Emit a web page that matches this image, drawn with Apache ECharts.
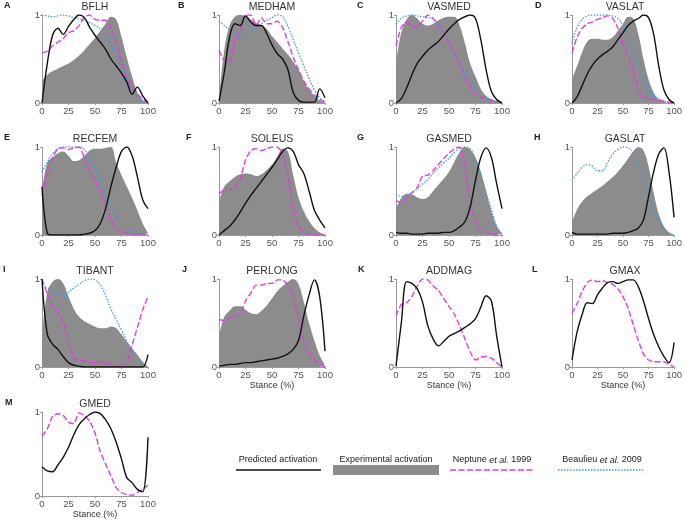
<!DOCTYPE html>
<html><head><meta charset="utf-8">
<script src="https://cdn.jsdelivr.net/npm/echarts@6/dist/echarts.min.js"></script>
<style>html,body{margin:0;padding:0;background:#fff}#c{width:685px;height:520px}</style>
</head><body><div id="c"></div><script>
// stance phase (%) sample points
const stance = [0,5,10,15,20,25,30,35,40,45,50,55,60,65,70,75,80,85,90,95,100];
const xTickValues = [0,25,50,75,100];
const yTickValues = [0,1];

const BFLH_exp  = [0.25,0.32,0.36,0.39,0.42,0.45,0.49,0.54,0.6,0.67,0.74,0.82,0.9,0.98,0.95,0.75,0.52,0.3,0.12,0.03,0];
const BFLH_pred = [0,0.45,0.77,0.85,0.78,0.87,0.95,1.0,0.97,0.86,0.77,0.69,0.61,0.5,0.42,0.34,0.24,0.1,0.18,0.08,0];
const BFLH_nep  = [0.57,0.59,0.65,0.69,0.73,0.8,0.82,0.88,0.98,1.0,0.95,0.94,0.94,0.85,0.68,0.47,0.3,0.18,0.1,0.05,0.01];
const BFLH_beau = [1.0,0.99,0.98,0.99,1.0,0.99,0.97,0.96,0.94,0.91,0.88,0.84,0.77,0.66,0.55,0.42,0.28,0.16,0.08,0.03,0];

const MEDHAM_exp  = [0.05,0.6,0.88,0.98,1.0,0.99,0.95,0.91,0.88,0.84,0.76,0.69,0.62,0.55,0.47,0.38,0.25,0.15,0.08,0.03,0];
const MEDHAM_pred = [0.02,0.35,0.75,0.9,0.88,0.99,0.92,0.88,0.88,0.79,0.66,0.56,0.5,0.38,0.12,0.03,0.01,0.01,0.01,0.16,0.06];
const MEDHAM_nep  = [0.6,0.48,0.47,0.72,0.82,1.0,1.0,0.88,0.97,0.9,0.9,0.93,0.86,0.7,0.52,0.38,0.25,0.16,0.09,0.04,0.01];
const MEDHAM_beau = [0.93,0.88,0.83,0.79,0.76,0.78,0.82,0.86,0.9,0.94,0.97,1.0,0.98,0.87,0.72,0.57,0.42,0.28,0.15,0.06,0.01];

const VASMED_exp  = [0.45,0.8,0.95,1.0,0.96,0.9,0.88,0.9,0.94,0.97,0.98,0.98,0.88,0.68,0.45,0.3,0.16,0.08,0.04,0.02,0];
const VASMED_pred = [0,0.05,0.17,0.32,0.45,0.53,0.6,0.65,0.7,0.77,0.84,0.9,0.95,0.98,1.0,0.96,0.72,0.38,0.13,0.04,0];
const VASMED_nep  = [0.65,0.86,0.92,0.88,0.86,0.93,1.0,0.96,0.88,0.8,0.68,0.58,0.45,0.3,0.18,0.1,0.07,0.05,0.03,0.02,0.01];
const VASMED_beau = [0.9,0.96,0.99,1.0,0.99,0.98,0.97,0.96,0.89,0.79,0.68,0.56,0.45,0.35,0.26,0.18,0.12,0.07,0.04,0.02,0];

const VASLAT_exp  = [0.27,0.42,0.58,0.7,0.73,0.73,0.72,0.72,0.75,0.82,0.9,0.98,0.96,0.78,0.5,0.27,0.12,0.04,0.01,0,0];
const VASLAT_pred = [0,0.07,0.2,0.33,0.43,0.5,0.55,0.59,0.64,0.72,0.8,0.88,0.93,0.96,1.0,0.97,0.78,0.42,0.15,0.04,0];
const VASLAT_nep  = [0.57,0.75,0.85,0.9,0.92,0.95,0.97,0.99,0.96,0.85,0.68,0.55,0.38,0.16,0.07,0.05,0.04,0.03,0.02,0.01,0];
const VASLAT_beau = [0.68,0.86,0.95,0.99,1.0,1.0,1.0,1.0,0.99,0.96,0.88,0.75,0.58,0.42,0.26,0.15,0.08,0.05,0.02,0.01,0];

const RECFEM_exp  = [0.5,0.82,0.88,0.93,0.95,0.9,0.84,0.85,0.9,0.96,0.98,0.98,0.99,1.0,0.82,0.68,0.55,0.42,0.28,0.13,0.02];
const RECFEM_pred = [0.55,0.02,0,0,0,0,0,0,0.01,0.02,0.05,0.13,0.3,0.55,0.77,0.95,1.0,0.9,0.66,0.4,0.3];
const RECFEM_nep  = [0.45,0.7,0.88,0.98,0.99,0.97,0.99,1.0,0.88,0.72,0.62,0.52,0.35,0.18,0.07,0.03,0.02,0.01,0.01,0.01,0.01];
const RECFEM_beau = [0.72,0.83,0.92,0.98,1.0,1.0,1.0,1.0,0.97,0.88,0.76,0.61,0.45,0.31,0.21,0.13,0.07,0.03,0.01,0,0];

const SOLEUS_exp  = [0.38,0.55,0.61,0.66,0.69,0.7,0.69,0.67,0.69,0.74,0.8,0.89,0.98,0.95,0.68,0.43,0.27,0.16,0.08,0.03,0];
const SOLEUS_pred = [0,0.05,0.1,0.17,0.26,0.36,0.45,0.53,0.61,0.69,0.77,0.86,0.95,0.99,0.95,0.8,0.7,0.5,0.28,0.17,0.08];
const SOLEUS_nep  = [0.47,0.51,0.52,0.53,0.64,0.85,0.96,0.98,0.96,0.98,1.0,1.0,0.92,0.68,0.3,0.1,0.03,0.01,0,0,0];

const GASMED_exp  = [0.3,0.42,0.47,0.46,0.43,0.41,0.43,0.5,0.57,0.64,0.72,0.83,0.94,1.0,0.97,0.88,0.72,0.5,0.27,0.1,0.02];
const GASMED_pred = [0.03,0.02,0.02,0.01,0.01,0.01,0.02,0.02,0.02,0.03,0.03,0.05,0.09,0.15,0.32,0.62,0.88,0.99,0.88,0.58,0.3];
const GASMED_nep  = [0.39,0.37,0.42,0.48,0.54,0.67,0.68,0.73,0.8,0.87,0.93,0.98,1.0,0.78,0.38,0.16,0.07,0.03,0.01,0,0];
const GASMED_beau = [0.46,0.44,0.45,0.48,0.52,0.58,0.63,0.7,0.76,0.82,0.87,0.94,0.98,1.0,0.98,0.85,0.68,0.48,0.29,0.1,0.01];

const GASLAT_exp  = [0.15,0.29,0.38,0.44,0.48,0.52,0.56,0.61,0.66,0.72,0.79,0.87,0.95,1.0,0.96,0.78,0.48,0.24,0.1,0.03,0];
const GASLAT_pred = [0.03,0.01,0.01,0.01,0.01,0.01,0.01,0.01,0.02,0.02,0.02,0.03,0.05,0.08,0.17,0.44,0.72,0.92,0.99,0.72,0.2];
const GASLAT_beau = [0.62,0.7,0.77,0.8,0.78,0.73,0.73,0.83,0.92,0.97,1.0,0.99,0.94,0.83,0.66,0.46,0.3,0.17,0.07,0.02,0];

const TIBANT_exp  = [0.35,0.85,0.97,1.0,0.95,0.8,0.66,0.57,0.52,0.49,0.46,0.44,0.44,0.46,0.44,0.37,0.29,0.21,0.14,0.06,0];
const TIBANT_pred = [1.0,0.37,0.26,0.2,0.12,0.05,0.02,0.01,0,0,0,0,0,0,0,0,0,0,0,0,0.14];
const TIBANT_nep  = [1.0,0.83,0.7,0.62,0.52,0.3,0.1,0.08,0.07,0.05,0.05,0.06,0.05,0.03,0.01,0,0.05,0.25,0.45,0.65,0.8];
const TIBANT_beau = [0.92,0.9,0.87,0.84,0.8,0.85,0.9,0.94,0.98,1.0,0.99,0.93,0.82,0.66,0.54,0.42,0.3,0.19,0.1,0.04,0];

const PERLONG_exp  = [0.35,0.57,0.64,0.69,0.69,0.65,0.61,0.6,0.64,0.7,0.78,0.86,0.92,0.97,1.0,0.94,0.74,0.5,0.3,0.13,0.02];
const PERLONG_pred = [0.01,0.02,0.03,0.03,0.04,0.05,0.05,0.06,0.07,0.08,0.09,0.1,0.12,0.15,0.2,0.3,0.58,0.82,0.99,0.8,0.18];
const PERLONG_nep  = [0.54,0.53,0.56,0.58,0.6,0.75,0.84,0.93,0.93,0.95,0.95,0.99,0.99,0.93,0.8,0.57,0.3,0.16,0.08,0.03,0];

const ADDMAG_pred = [0.01,0.5,0.97,0.95,0.89,0.74,0.47,0.32,0.24,0.29,0.35,0.38,0.41,0.45,0.49,0.55,0.68,0.81,0.75,0.35,0];
const ADDMAG_nep  = [0.58,0.71,0.73,0.8,0.92,1.0,0.99,0.92,0.87,0.78,0.69,0.6,0.47,0.32,0.17,0.08,0.11,0.12,0.1,0.05,0];

const GMAX_pred = [0.08,0.4,0.6,0.73,0.72,0.82,0.9,0.96,0.97,0.95,0.97,0.99,0.99,0.91,0.75,0.55,0.37,0.23,0.12,0.05,0.28];
const GMAX_nep  = [0.61,0.72,0.86,0.96,0.99,0.97,0.98,0.96,0.94,0.89,0.8,0.67,0.48,0.3,0.15,0.08,0.06,0.06,0.06,0.03,0];

const GMED_pred = [0.35,0.3,0.29,0.37,0.46,0.58,0.73,0.85,0.92,0.97,1.0,0.98,0.91,0.8,0.64,0.44,0.22,0.16,0.08,0.05,0.7];
const GMED_nep  = [0.71,0.8,0.95,0.98,0.96,0.88,0.86,0.99,0.96,0.89,0.75,0.53,0.38,0.24,0.1,0.04,0.02,0.01,0.04,0.08,0.13];

const panels = [
  {name:'BFLH', letter:'A', exp:BFLH_exp, pred:BFLH_pred, nep:BFLH_nep, beau:BFLH_beau},
  {name:'MEDHAM', letter:'B', exp:MEDHAM_exp, pred:MEDHAM_pred, nep:MEDHAM_nep, beau:MEDHAM_beau},
  {name:'VASMED', letter:'C', exp:VASMED_exp, pred:VASMED_pred, nep:VASMED_nep, beau:VASMED_beau},
  {name:'VASLAT', letter:'D', exp:VASLAT_exp, pred:VASLAT_pred, nep:VASLAT_nep, beau:VASLAT_beau},
  {name:'RECFEM', letter:'E', exp:RECFEM_exp, pred:RECFEM_pred, nep:RECFEM_nep, beau:RECFEM_beau},
  {name:'SOLEUS', letter:'F', exp:SOLEUS_exp, pred:SOLEUS_pred, nep:SOLEUS_nep},
  {name:'GASMED', letter:'G', exp:GASMED_exp, pred:GASMED_pred, nep:GASMED_nep, beau:GASMED_beau},
  {name:'GASLAT', letter:'H', exp:GASLAT_exp, pred:GASLAT_pred, beau:GASLAT_beau},
  {name:'TIBANT', letter:'I', exp:TIBANT_exp, pred:TIBANT_pred, nep:TIBANT_nep, beau:TIBANT_beau},
  {name:'PERLONG', letter:'J', exp:PERLONG_exp, pred:PERLONG_pred, nep:PERLONG_nep, stanceLabel:true},
  {name:'ADDMAG', letter:'K', pred:ADDMAG_pred, nep:ADDMAG_nep, stanceLabel:true},
  {name:'GMAX', letter:'L', pred:GMAX_pred, nep:GMAX_nep, stanceLabel:true},
  {name:'GMED', letter:'M', pred:GMED_pred, nep:GMED_nep, stanceLabel:true}
];

const colX = [42, 219, 396, 572];
const rowY = [15, 147, 279, 412];
const PW = 106, PH = 88;
const letterX = [[4,178,357,535],[4,186,357,534],[3,182,358,532],[5]];

const C_EXP = '#8c8c8c', C_PRED = '#111111', C_NEP = '#e03ce0', C_BEAU = '#3d9be0';
const FONT = '"Liberation Sans", Arial, sans-serif';

const grids = [], xAxes = [], yAxes = [], series = [], titles = [];
const pairs = arr => stance.map((x, k) => [x, arr[k]]);

panels.forEach((p, i) => {
  const col = i % 4, row = Math.floor(i / 4);
  const left = colX[col], top = rowY[row];
  grids.push({left: left, top: top, width: PW, height: PH});
  xAxes.push({
    gridIndex: i, type: 'value', min: 0, max: 100, interval: 25,
    name: p.stanceLabel ? 'Stance (%)' : '', nameLocation: 'middle', nameGap: 12,
    nameTextStyle: {fontSize: 9, color: '#333', fontFamily: FONT},
    axisLine: {show: true, onZero: false, lineStyle: {color: '#9a9a9a', width: 1}},
    axisTick: {show: true, length: 2, lineStyle: {color: '#9a9a9a'}},
    axisLabel: {fontSize: 9.5, color: '#555', margin: 3, fontFamily: FONT,
      formatter: v => xTickValues.includes(v) ? String(v) : ''},
    splitLine: {show: false}
  });
  yAxes.push({
    gridIndex: i, type: 'value', min: 0, max: 1, interval: 1,
    axisLine: {show: true, lineStyle: {color: '#9a9a9a', width: 1}},
    axisTick: {show: true, length: 2, lineStyle: {color: '#9a9a9a'}},
    axisLabel: {fontSize: 9.5, color: '#555', margin: 2, fontFamily: FONT,
      formatter: v => yTickValues.includes(v) ? String(v) : ''},
    splitLine: {show: false}
  });
  titles.push({text: p.name, left: left + PW / 2, top: top - 13, textAlign: 'center', padding: 0,
    textStyle: {fontSize: 10.5, fontWeight: 'normal', color: '#333', fontFamily: FONT}});
  titles.push({text: p.letter, left: letterX[row][col], top: top - 14, padding: 0,
    textStyle: {fontSize: 9, fontWeight: 'bold', color: '#222', fontFamily: FONT}});
  if (p.exp) series.push({type: 'line', name: 'Experimental activation', xAxisIndex: i, yAxisIndex: i,
    data: pairs(p.exp), smooth: 0.4, symbol: 'none', lineStyle: {width: 0}, itemStyle: {color: C_EXP},
    areaStyle: {color: C_EXP, opacity: 1}, z: 1, silent: true});
  if (p.beau) series.push({type: 'line', name: 'Beaulieu et al. 2009', xAxisIndex: i, yAxisIndex: i,
    data: pairs(p.beau), smooth: 0.4, symbol: 'none', z: 3,
    lineStyle: {color: C_BEAU, width: 1.3, type: [1.5, 1.5]}});
  if (p.nep) series.push({type: 'line', name: 'Neptune et al. 1999', xAxisIndex: i, yAxisIndex: i,
    data: pairs(p.nep), smooth: 0.2, symbol: 'none', z: 4,
    lineStyle: {color: C_NEP, width: 1.4, type: [6, 2.5]}});
  if (p.pred) series.push({type: 'line', name: 'Predicted activation', xAxisIndex: i, yAxisIndex: i,
    data: pairs(p.pred), smooth: 0.35, symbol: 'none', z: 5,
    lineStyle: {color: C_PRED, width: 1.4}});
});

// legend drawn with graphic elements
const legY = 470;
const LF = 9;
const rich = {n: {fontSize: LF, fill: '#222', fontFamily: FONT}, i: {fontSize: LF, fill: '#222', fontStyle: 'italic', fontFamily: FONT}};
const graphic = [
  {type: 'text', x: 278, y: legY - 10, style: {text: 'Predicted activation', fontSize: LF, fill: '#222', fontFamily: FONT, textAlign: 'center', textVerticalAlign: 'middle'}},
  {type: 'line', shape: {x1: 236, y1: legY, x2: 321, y2: legY}, style: {stroke: C_PRED, lineWidth: 1.6}},
  {type: 'text', x: 386, y: legY - 10, style: {text: 'Experimental activation', fontSize: LF, fill: '#222', fontFamily: FONT, textAlign: 'center', textVerticalAlign: 'middle'}},
  {type: 'rect', shape: {x: 333, y: legY - 5, width: 106, height: 10}, style: {fill: C_EXP}},
  {type: 'text', x: 492, y: legY - 10, style: {text: '{n|Neptune }{i|et al.}{n| 1999}', rich: rich, textAlign: 'center', textVerticalAlign: 'middle'}},
  {type: 'line', shape: {x1: 450, y1: legY, x2: 535, y2: legY}, style: {stroke: C_NEP, lineWidth: 1.6, lineDash: [6, 2.5]}},
  {type: 'text', x: 602, y: legY - 10, style: {text: '{n|Beaulieu }{i|et al.}{n| 2009}', rich: rich, textAlign: 'center', textVerticalAlign: 'middle'}},
  {type: 'line', shape: {x1: 558, y1: legY, x2: 643, y2: legY}, style: {stroke: C_BEAU, lineWidth: 1.4, lineDash: [1.5, 1.5]}}
];

const chart = echarts.init(document.getElementById('c'), null, {renderer: 'canvas'});
chart.setOption({
  animation: false,
  backgroundColor: '#fff',
  title: titles,
  grid: grids,
  xAxis: xAxes,
  yAxis: yAxes,
  series: series,
  graphic: graphic
});
</script></body></html>
